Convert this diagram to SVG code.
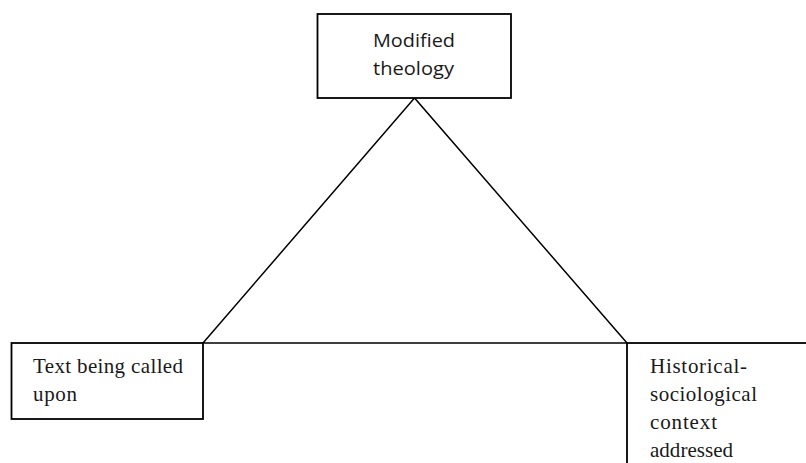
<svg xmlns="http://www.w3.org/2000/svg" width="806" height="463" viewBox="0 0 806 463">
<style>
.box{fill:#fff;stroke:#000;stroke-width:1.8}
.edge{fill:none;stroke:#000;stroke-width:1.5}
.sans{font-family:"Open Sans","Liberation Sans",sans-serif;font-size:19px;fill:#1a1a1a}
.serif{font-family:"Liberation Serif","Times New Roman",serif;font-size:21px;fill:#1a1a1a}
</style>
<rect width="806" height="463" fill="#fff"/>
<g id="connectors">
<polygon class="edge" points="414.5,98 203,343 627,343"/>
</g>
<g id="node-theology">
<rect class="box" x="317.5" y="14" width="193.5" height="84"/>
<text class="sans" x="373" y="47" textLength="82" lengthAdjust="spacingAndGlyphs">Modified</text>
<text class="sans" x="373" y="75" textLength="81" lengthAdjust="spacingAndGlyphs">theology</text>
</g>
<g id="node-text">
<rect class="box" x="11.5" y="343" width="191.5" height="76"/>
<text class="serif" x="33" y="373" textLength="150" lengthAdjust="spacing">Text being called</text>
<text class="serif" x="33" y="401" textLength="44" lengthAdjust="spacing">upon</text>
</g>
<g id="node-context">
<rect class="box" x="627" y="343" width="190" height="130"/>
<text class="serif" x="650" y="373" textLength="97" lengthAdjust="spacing">Historical-</text>
<text class="serif" x="650" y="401" textLength="107" lengthAdjust="spacing">sociological</text>
<text class="serif" x="650" y="429" textLength="67" lengthAdjust="spacing">context</text>
<text class="serif" x="650" y="457" textLength="83" lengthAdjust="spacing">addressed</text>
</g>
</svg>
